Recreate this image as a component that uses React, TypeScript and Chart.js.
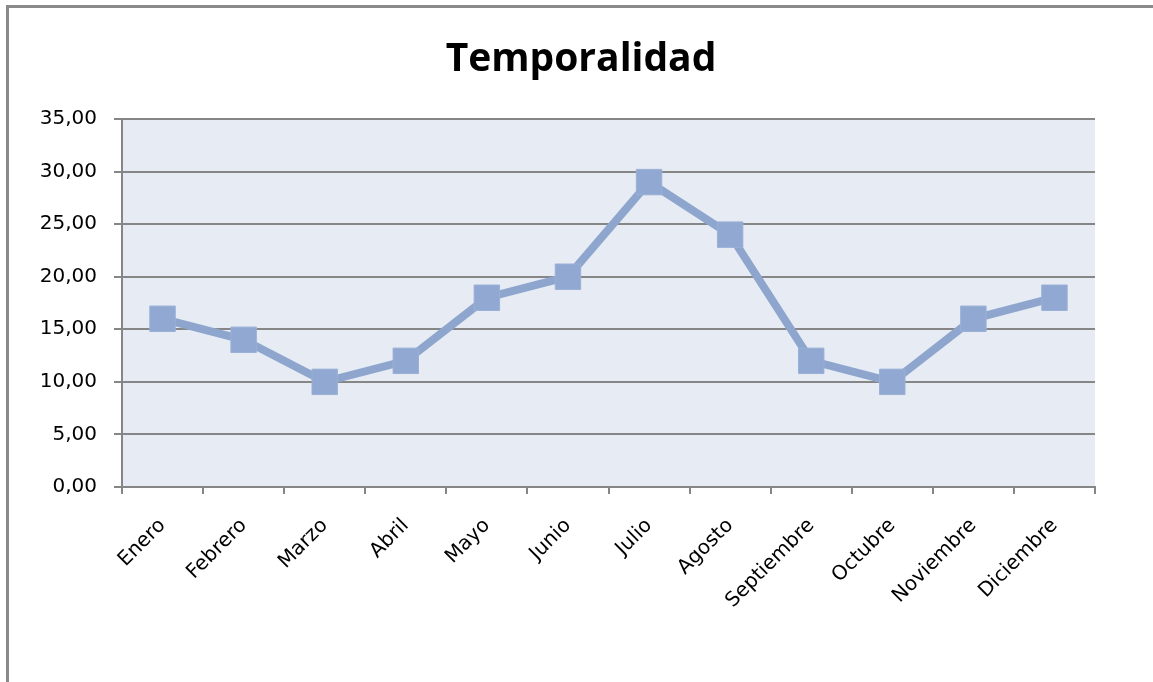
import React, { useEffect, useRef } from "react";
import { Chart, registerables } from "chart.js";

Chart.register(...registerables);

const categories = ["Enero", "Febrero", "Marzo", "Abril", "Mayo", "Junio", "Julio", "Agosto", "Septiembre", "Octubre", "Noviembre", "Diciembre"];
const values = [16, 14, 10, 12, 18, 20, 29, 24, 12, 10, 16, 18];
const yTicks = [0, 5, 10, 15, 20, 25, 30, 35];
const chartTitle = "Temporalidad";

const plotBg = {
  id: "plotBg",
  beforeDraw(chart: any) {
    const { ctx, chartArea } = chart;
    ctx.save();
    ctx.fillStyle = "#E7ECF4";
    ctx.fillRect(chartArea.left, chartArea.top, chartArea.right - chartArea.left, chartArea.bottom - chartArea.top);
    ctx.restore();
  },
};

export default function App() {
  const ref = useRef<HTMLCanvasElement | null>(null);
  useEffect(() => {
    if (!ref.current) return;
    const font = "'DejaVu Sans', 'Open Sans', sans-serif";
    const chart = new Chart(ref.current, {
      type: "line",
      data: {
        labels: categories,
        datasets: [
          {
            data: values,
            borderColor: "#8EA6CE",
            backgroundColor: "#91A9D2",
            borderWidth: 8,
            pointStyle: "rect",
            pointRadius: 18,
            pointBorderWidth: 1,
            pointBorderColor: "#9AB0D6",
            pointBackgroundColor: "#91A9D2",
            tension: 0,
          },
        ],
      },
      options: {
        animation: false,
        responsive: false,
        maintainAspectRatio: false,
        layout: { padding: { left: 0, right: 58, top: 119, bottom: 0 } },
        plugins: {
          legend: { display: false },
          tooltip: { enabled: false },
          title: { display: false },
        },
        scales: {
          x: {
            offset: true,
            grid: {
              offset: true,
              drawOnChartArea: false,
              drawTicks: true,
              tickLength: 7,
              color: "#868686",
              lineWidth: 2,
            },
            border: { display: true, color: "#868686", width: 2 },
            ticks: {
              autoSkip: false,
              minRotation: 45,
              maxRotation: 45,
              color: "#000",
              padding: 20,
              font: { family: font, size: 20 },
            },
            afterFit(scale: any) {
              scale.height = 195;
            },
          },
          y: {
            min: 0,
            max: 35,
            afterBuildTicks(scale: any) {
              scale.ticks = yTicks.map((v) => ({ value: v }));
            },
            grid: {
              color: "#868686",
              lineWidth: 2,
              drawTicks: true,
              tickLength: 8,
            },
            border: { display: true, color: "#868686", width: 2 },
            ticks: {
              color: "#000",
              padding: 17,
              font: { family: font, size: 20 },
              callback: (v: any) => Number(v).toFixed(2).replace(".", ","),
            },
            afterFit(scale: any) {
              scale.width = 122;
            },
          },
        },
      },
      plugins: [plotBg],
    });
    return () => chart.destroy();
  }, []);
  return (
    <div style={{ position: "absolute", left: 0, top: 0, width: 1153, height: 682, background: "#fff", overflow: "hidden" }}>
      <div
        style={{
          position: "absolute",
          left: 6,
          top: 5,
          width: 1200,
          height: 720,
          borderLeft: "3px solid #8a8a8a",
          borderTop: "3px solid #8a8a8a",
        }}
      />
      <canvas ref={ref} width={1153} height={682} style={{ position: "absolute", left: 0, top: 0, width: 1153, height: 682 }} />
      <div
        style={{
          position: "absolute",
          left: 381,
          width: 400,
          top: 30,
          textAlign: "center",
          fontFamily: "'Open Sans', sans-serif",
          fontWeight: 700,
          fontSize: 39,
          lineHeight: "52px",
          color: "#000",
        }}
      >
        {chartTitle}
      </div>
    </div>
  );
}
